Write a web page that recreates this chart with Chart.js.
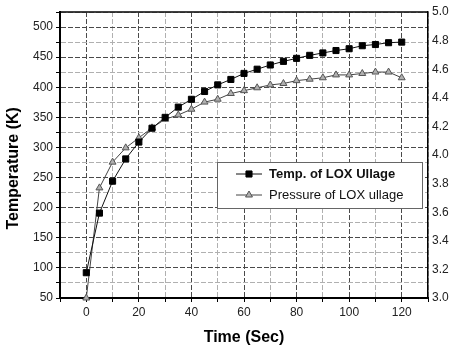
<!DOCTYPE html>
<html>
<head>
<meta charset="utf-8">
<script src="https://cdn.jsdelivr.net/npm/chart.js@4/dist/chart.umd.min.js"></script>
<style>
  body { margin: 0; background: #fff; }
  #wrap { width: 450px; height: 347px; }
</style>
</head>
<body>
<div id="wrap"><canvas id="loxChart" width="450" height="347"></canvas></div>
<script>
/* DATA */
const timeSec = [0, 5, 10, 15, 20, 25, 30, 35, 40, 45, 50, 55, 60,
                 65, 70, 75, 80, 85, 90, 95, 100, 105, 110, 115, 120];
const tempK = [92, 191, 244, 281, 309, 332, 350, 367, 380, 393, 404, 413, 423,
               430, 437, 443, 448, 453, 457, 461, 464, 469, 471, 474, 475];
const pressure = [3.00, 3.77, 3.95, 4.05, 4.12, 4.19, 4.25, 4.28, 4.32, 4.37, 4.39, 4.43, 4.45,
                  4.47, 4.49, 4.50, 4.52, 4.53, 4.54, 4.56, 4.56, 4.57, 4.58, 4.58, 4.54];
const xTicks = [0, 20, 40, 60, 80, 100, 120];
const yTicks = [50, 100, 150, 200, 250, 300, 350, 400, 450, 500];

const FONT = "'Liberation Sans', Arial, sans-serif";
const MAJOR = "#4a4a4a";
const MINOR = "#b0b0b0";

/* frame round the plot + legend box */
const framePlugin = {
    id: "frame",
    afterDatasetsDraw(chart) {
        const { ctx, chartArea: a } = chart;
        ctx.save();
        ctx.strokeStyle = "#000";
        ctx.lineWidth = 1.5;
        ctx.beginPath();
        ctx.moveTo(a.left, a.top);
        ctx.lineTo(a.right, a.top);
        ctx.stroke();

        // legend
        const bx = 217, by = 162, bw = 205, bh = 46;
        ctx.fillStyle = "#fff";
        ctx.fillRect(bx, by, bw, bh);
        ctx.strokeStyle = "#666";
        ctx.lineWidth = 1;
        ctx.strokeRect(bx + 0.5, by + 0.5, bw, bh);

        const rows = [
            { ds: chart.data.datasets[0], y: by + 12, bold: true },
            { ds: chart.data.datasets[1], y: by + 33, bold: false }
        ];
        rows.forEach(r => {
            ctx.strokeStyle = r.ds.borderColor;
            ctx.lineWidth = 1;
            ctx.beginPath();
            ctx.moveTo(236, r.y);
            ctx.lineTo(262, r.y);
            ctx.stroke();
            ctx.fillStyle = r.ds.pointBackgroundColor;
            ctx.strokeStyle = r.ds.pointBorderColor;
            Chart.helpers.drawPoint(ctx, {
                pointStyle: r.ds.pointStyle,
                radius: r.ds.pointRadius,
                rotation: 0,
                borderWidth: 1
            }, 249, r.y);
            ctx.fillStyle = "#111";
            ctx.font = (r.bold ? "bold " : "") + "13px " + FONT;
            ctx.textBaseline = "middle";
            ctx.textAlign = "left";
            ctx.fillText(r.ds.label, 269, r.y);
        });
        ctx.restore();
    }
};

new Chart(document.getElementById("loxChart"), {
    type: "line",
    data: {
        datasets: [{
            label: "Temp. of LOX Ullage",
            data: timeSec.map((t, i) => ({ x: t, y: tempK[i] })),
            yAxisID: "y",
            borderColor: "#111",
            borderWidth: 1,
            pointStyle: "rect",
            pointRadius: 4.3,
            pointBackgroundColor: "#000",
            pointBorderColor: "#000",
            tension: 0,
            clip: false
        }, {
            label: "Pressure of LOX ullage",
            data: timeSec.map((t, i) => ({ x: t, y: pressure[i] })),
            yAxisID: "y1",
            borderColor: "#444",
            borderWidth: 1,
            pointStyle: "triangle",
            pointRadius: 4,
            pointBackgroundColor: "#b0b0b0",
            pointBorderColor: "#555",
            tension: 0,
            clip: false
        }]
    },
    options: {
        responsive: false,
        animation: false,
        layout: { padding: { top: 12, left: 0, right: 0, bottom: 0 } },
        plugins: { legend: { display: false }, tooltip: { enabled: false } },
        scales: {
            x: {
                type: "linear",
                min: -10, max: 130,
                afterFit: s => { s.height = 49; },
                ticks: {
                    stepSize: 10,
                    autoSkip: false,
                    maxRotation: 0,
                    padding: 3,
                    color: "#222",
                    font: { family: FONT, size: 12 },
                    callback: v => xTicks.includes(v) ? String(v) : ""
                },
                grid: {
                    color: c => c.tick && c.tick.value % 20 === 0 ? MAJOR : MINOR,
                    lineWidth: 1,
                    tickLength: 4,
                    tickColor: "#000"
                },
                border: { color: "#000", width: 2, dash: [5, 2] },
                title: {
                    display: true,
                    text: "Time (Sec)",
                    color: "#000",
                    font: { family: FONT, size: 16, weight: "bold" },
                    padding: { top: 0, bottom: 0 }
                }
            },
            y: {
                position: "left",
                min: 50, max: 525,
                afterFit: s => { s.width = 60; },
                ticks: {
                    stepSize: 25,
                    autoSkip: false,
                    padding: 3,
                    color: "#222",
                    font: { family: FONT, size: 12 },
                    callback: v => yTicks.includes(v) ? String(v) : ""
                },
                grid: {
                    color: c => c.tick && c.tick.value % 50 === 0 ? MAJOR : MINOR,
                    lineWidth: 1,
                    tickLength: 4,
                    tickColor: "#000"
                },
                border: { color: "#000", width: 2, dash: [5, 2] },
                title: {
                    display: true,
                    // trailing spaces nudge the rotated title down like the original
                    text: "Temperature (K)      ",
                    color: "#000",
                    font: { family: FONT, size: 16, weight: "bold" },
                    padding: { top: 4, bottom: 0 }
                }
            },
            y1: {
                position: "right",
                min: 3.0, max: 5.0,
                afterFit: s => { s.width = 22; },
                ticks: {
                    stepSize: 0.2,
                    autoSkip: false,
                    padding: 4,
                    color: "#222",
                    font: { family: FONT, size: 12 },
                    callback: v => v.toFixed(1)
                },
                grid: { drawOnChartArea: false, tickLength: 0 },
                border: { color: "#000", width: 1.5 }
            }
        }
    },
    plugins: [framePlugin]
});
</script>
</body>
</html>
